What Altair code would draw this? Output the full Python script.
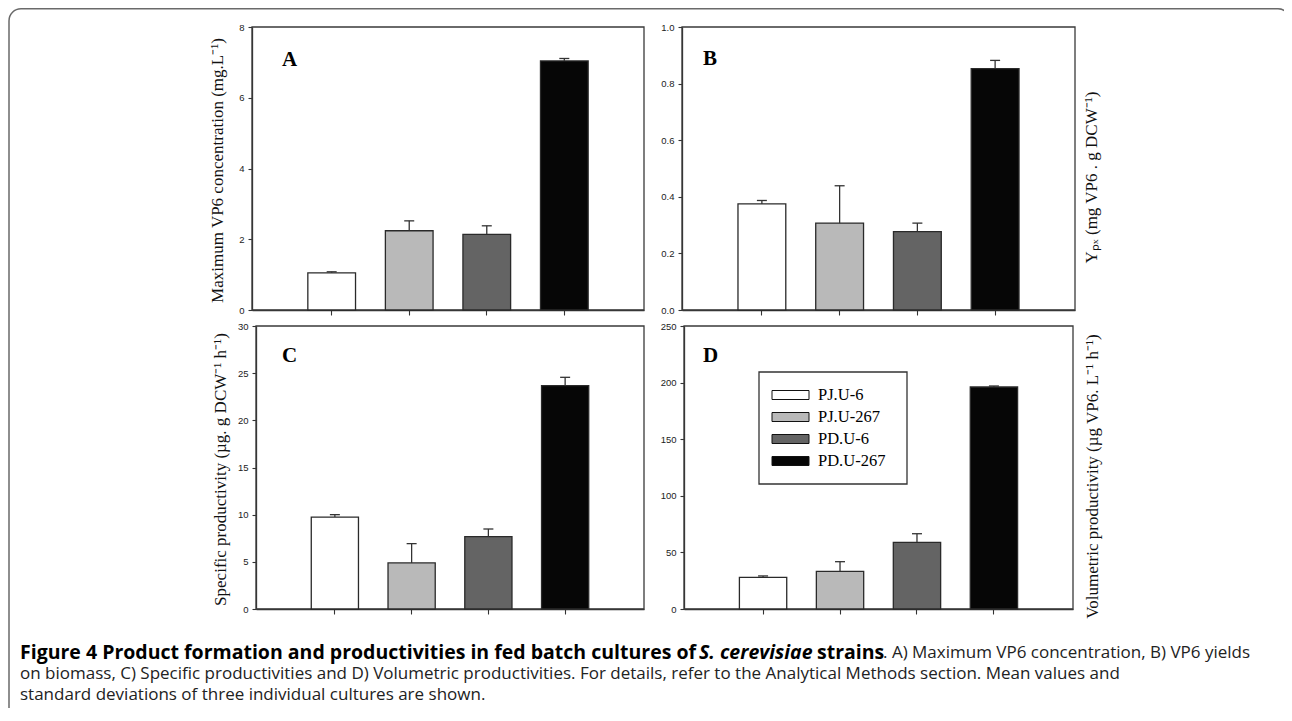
import altair as alt
import pandas as pd

# ---------------- data ----------------
strains = ["PJ.U-6", "PJ.U-267", "PD.U-6", "PD.U-267"]
bar_colors = ["#ffffff", "#b9b9b9", "#646464", "#060606"]

max_vp6 = [1.05, 2.24, 2.14, 7.04]
max_vp6_sd = [0.03, 0.28, 0.24, 0.07]
yield_px = [0.375, 0.307, 0.277, 0.853]
yield_px_sd = [0.012, 0.132, 0.030, 0.029]
spec_prod = [9.75, 4.88, 7.67, 23.67]
spec_prod_sd = [0.25, 2.05, 0.81, 0.89]
vol_prod = [28.0, 33.3, 58.9, 196.1]
vol_prod_sd = [1.2, 8.5, 7.6, 0.9]

ticks_a = [0, 2, 4, 6, 8]
ticks_b = [0.0, 0.2, 0.4, 0.6, 0.8, 1.0]
ticks_c = [0, 5, 10, 15, 20, 25, 30]
ticks_d = [0, 50, 100, 150, 200, 250]

title_a = "Maximum VP6 concentration (mg.L\u207b\u00b9)"
title_b = "Y\u209a\u2093 (mg VP6 . g DCW\u207b\u00b9)"
title_c = "Specific productivity (\u00b5g. g DCW\u207b\u00b9 h\u207b\u00b9)"
title_d = "Volumetric productivity (\u00b5g VP6. L\u207b\u00b9 h\u207b\u00b9)"

cap_bold = "Figure 4 Product formation and productivities in fed batch cultures of"
cap_italic = "S. cerevisiae"
cap_bold2 = "strains"
cap_reg1 = ". A) Maximum VP6 concentration, B) VP6 yields"
cap_line2 = ("on biomass, C) Specific productivities and D) Volumetric productivities. "
             "For details, refer to the Analytical Methods section. Mean values and")
cap_line3 = "standard deviations of three individual cultures are shown."

# ---------------- layout ----------------
W, H = 1276, 700
SERIF = "Liberation Serif"


def one(text):
    return alt.Chart(pd.DataFrame({"t": [text]}))


def panel(letter, values, sds, ticks, fmt, title, xr, yr, title_x, title_y, letter_xy):
    df = pd.DataFrame({"strain": strains, "value": values, "sd": sds})
    df["top"] = df["value"] + df["sd"]
    xs = alt.Scale(domain=strains, range=list(xr), paddingInner=0.385, paddingOuter=0.72)
    ys = alt.Scale(domain=[ticks[0], ticks[-1]], range=list(yr), nice=False)
    xaxis = alt.Axis(orient="bottom", offset=yr[0] - H, labels=False, title=None,
                     tickSize=5, grid=False)
    yaxis = alt.Axis(orient="left", offset=-xr[0], values=ticks, format=fmt, title=title,
                     titleX=title_x, titleY=title_y, titleAngle=270, titleBaseline="bottom",
                     titleAlign="center", tickSize=4, labelPadding=4, grid=False)
    X = alt.X("strain:N", scale=xs, axis=xaxis, sort=strains)
    base = alt.Chart(df)
    frame = one(letter).mark_rect(filled=False, stroke="#3a3a3a", strokeWidth=1.3).encode(
        x=alt.value(xr[0]), x2=alt.value(xr[1]), y=alt.value(yr[1]), y2=alt.value(yr[0]))
    bars = base.mark_bar(stroke="#2a2a2a", strokeWidth=1.3).encode(
        x=X,
        y=alt.Y("value:Q", scale=ys, axis=yaxis),
        color=alt.Color("strain:N", scale=alt.Scale(domain=strains, range=bar_colors), legend=None),
    )
    rules = base.mark_rule(color="#333333", strokeWidth=1.3).encode(
        x=X, y=alt.Y("value:Q", scale=ys, axis=yaxis), y2="top:Q")
    caps = base.mark_tick(color="#333333", thickness=1.3, size=10, orient="horizontal",
                          opacity=1).encode(x=X, y=alt.Y("top:Q", scale=ys, axis=yaxis))
    lab = one(letter).mark_text(font=SERIF, fontSize=21, fontWeight="bold", align="left",
                                baseline="alphabetic", color="#000").encode(
        x=alt.value(letter_xy[0]), y=alt.value(letter_xy[1]), text="t:N")
    return alt.layer(frame, bars, rules, caps, lab)


pA = panel("A", max_vp6, max_vp6_sd, ticks_a, "d", title_a, (244, 636), (302, 19), -26, 162, (274, 58))
pB = panel("B", yield_px, yield_px_sd, ticks_b, ".1f", title_b, (674, 1067), (302, 19), 418, 169, (695, 57))
pC = panel("C", spec_prod, spec_prod_sd, ticks_c, "d", title_c, (248, 636), (601, 318), -27, 461, (274, 354))
pD = panel("D", vol_prod, vol_prod_sd, ticks_d, "d", title_d, (676, 1065), (601, 318), 417, 468, (695, 354))

# ---------------- legend (inside panel D) ----------------
leg_df = pd.DataFrame({"strain": strains})
leg_y = alt.Y("strain:N", scale=alt.Scale(type="point", domain=strains, range=[387, 453], padding=0),
              axis=None, sort=strains)
leg_box = one("legend").mark_rect(fill="white", stroke="#333333", strokeWidth=1.3).encode(
    x=alt.value(751), x2=alt.value(899), y=alt.value(364), y2=alt.value(476))
leg_sym = alt.Chart(leg_df).mark_tick(orient="horizontal", size=37, thickness=9, stroke="#111111",
                                     strokeWidth=1, opacity=1).encode(
    x=alt.value(782.5), y=leg_y,
    fill=alt.Fill("strain:N", scale=alt.Scale(domain=strains, range=bar_colors), legend=None))
leg_txt = alt.Chart(leg_df).mark_text(font=SERIF, fontSize=16.5, align="left", baseline="middle",
                                      color="#000").encode(
    x=alt.value(810), y=leg_y, text="strain:N")
legend = alt.layer(leg_box, leg_sym, leg_txt)

# ---------------- figure border and caption ----------------
border = one("border").mark_rect(filled=False, stroke="#6a6a6a", strokeWidth=1.5, cornerRadius=12).encode(
    x=alt.value(1), x2=alt.value(1282), y=alt.value(0.75), y2=alt.value(740))

CAP = "Open Sans"
CB = 19.5   # bold part of the caption
CR = 17     # regular caption text
c1 = one(cap_bold).mark_text(font=CAP, fontSize=CB, fontWeight="bold", align="left",
                             baseline="middle", color="#000").encode(
    x=alt.value(12), y=alt.value(645), text="t:N")
c2 = one(cap_italic).mark_text(font=CAP, fontSize=CB, fontWeight="bold", fontStyle="italic",
                               align="left", baseline="middle", color="#000").encode(
    x=alt.value(691), y=alt.value(645), text="t:N")
c3 = one(cap_bold2).mark_text(font=CAP, fontSize=CB, fontWeight="bold", align="left",
                              baseline="middle", color="#000").encode(
    x=alt.value(809), y=alt.value(645), text="t:N")
c4 = one(cap_reg1).mark_text(font=CAP, fontSize=CR, align="left", baseline="middle",
                             color="#222").encode(
    x=alt.value(875), y=alt.value(645), text="t:N")
c5 = one(cap_line2).mark_text(font=CAP, fontSize=CR, align="left", baseline="middle",
                              color="#222").encode(
    x=alt.value(12), y=alt.value(666), text="t:N")
c6 = one(cap_line3).mark_text(font=CAP, fontSize=CR, align="left", baseline="middle",
                              color="#222").encode(
    x=alt.value(12), y=alt.value(687), text="t:N")

chart = alt.layer(border, pA, pB, pC, pD, legend, c1, c2, c3, c4, c5, c6).resolve_scale(
    x="independent", y="independent"
).properties(
    width=W, height=H, autosize=alt.AutoSizeParams(type="none"), padding=0
).configure_view(stroke=None).configure_axis(
    labelFont="Liberation Sans", labelFontSize=9.5, labelColor="#222222",
    tickColor="#333333", domainColor="#333333", domainWidth=1.3, tickWidth=1.1,
    titleFont=SERIF, titleFontSize=17, titleFontWeight="normal", titleColor="#111111",
    grid=False,
)

chart.save("out.html", embed_options={"renderer": "svg", "actions": False})
